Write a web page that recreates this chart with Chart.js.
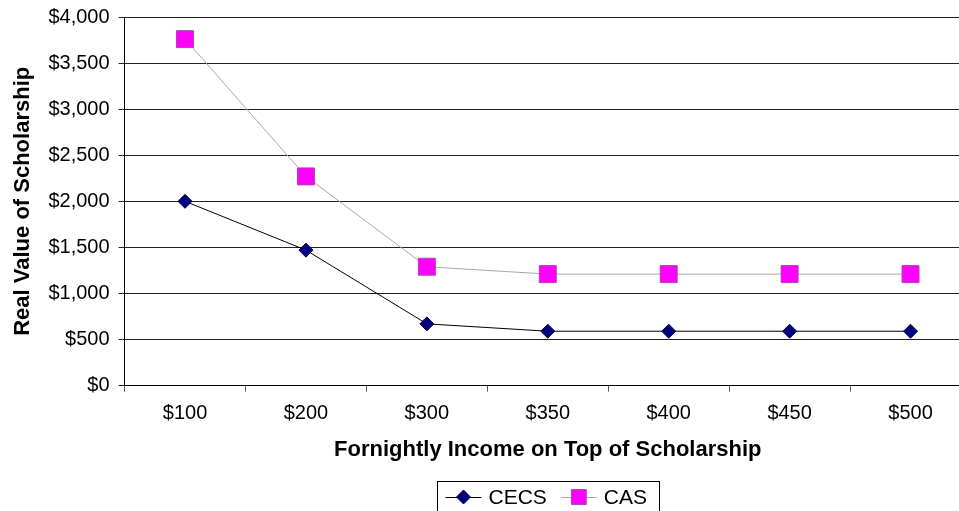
<!DOCTYPE html>
<html>
<head>
<meta charset="utf-8">
<title>Real Value of Scholarship</title>
<script src="https://cdn.jsdelivr.net/npm/chart.js@4.4.0/dist/chart.umd.min.js"></script>
<style>
  html, body { margin: 0; padding: 0; background: #fff; overflow: hidden; }
  #wrap { width: 984px; height: 511px; }
  canvas { display: block; }
</style>
</head>
<body>
<div id="wrap"><canvas id="scholarshipChart" width="984" height="511" style="width:984px;height:511px"></canvas></div>
<script>
// fortnightly income categories and the real value of each scholarship
const incomeLabels = ['$100', '$200', '$300', '$350', '$400', '$450', '$500'];
const cecsValues = [2000, 1470, 670, 590, 590, 590, 590];
const casValues = [3760, 2270, 1290, 1210, 1210, 1210, 1210];
const yMin = 0, yMax = 4000, yStep = 500;

const FONT = "'Liberation Sans', Arial, sans-serif";

// boxed legend under the x axis title, centred on the plot
const boxLegend = {
  id: 'boxLegend',
  afterDraw(chart) {
    const ctx = chart.ctx;
    const area = chart.chartArea;
    const cx = (area.left + area.right) / 2;
    const w = 222, top = 481, y = 497;
    const left = Math.round(cx - w / 2) + 0.5;
    ctx.save();
    ctx.strokeStyle = '#000';
    ctx.lineWidth = 1;
    ctx.strokeRect(left, top + 0.5, w, 40);
    ctx.font = '21px ' + FONT;
    ctx.textBaseline = 'middle';
    let x = left + 8;
    chart.data.datasets.forEach(ds => {
      ctx.strokeStyle = ds.borderColor;
      ctx.lineWidth = 1;
      ctx.beginPath();
      ctx.moveTo(x, y + 0.5);
      ctx.lineTo(x + 36, y + 0.5);
      ctx.stroke();
      ctx.fillStyle = ds.pointBackgroundColor;
      ctx.strokeStyle = ds.pointBorderColor;
      Chart.helpers.drawPoint(ctx, {
        pointStyle: ds.pointStyle,
        radius: ds.legendRadius,
        borderWidth: 1,
        rotation: 0
      }, x + 18, y);
      ctx.fillStyle = '#000';
      ctx.fillText(ds.label, x + 43, y + 1);
      x += 43 + ctx.measureText(ds.label).width + 14;
    });
    ctx.restore();
  }
};

new Chart(document.getElementById('scholarshipChart'), {
  type: 'line',
  data: {
    labels: incomeLabels,
    datasets: [
      {
        label: 'CECS',
        data: cecsValues,
        borderColor: '#000000',
        borderWidth: 1,
        pointStyle: 'rectRot',
        pointRadius: 7,
        legendRadius: 7,
        pointBackgroundColor: '#000080',
        pointBorderColor: '#000040',
        pointBorderWidth: 1,
        tension: 0
      },
      {
        label: 'CAS',
        data: casValues,
        borderColor: '#a8a8a8',
        borderWidth: 1,
        pointStyle: 'rect',
        pointRadius: 12,
        legendRadius: 10.5,
        pointBackgroundColor: '#ff00ff',
        pointBorderColor: '#b040b0',
        pointBorderWidth: 1,
        tension: 0
      }
    ]
  },
  options: {
    responsive: false,
    animation: false,
    layout: { padding: { top: 16, left: 10, right: 2, bottom: 48 } },
    plugins: {
      legend: { display: false },
      tooltip: { enabled: false }
    },
    scales: {
      x: {
        offset: true,
        grid: {
          offset: true,
          drawOnChartArea: false,
          drawTicks: true,
          tickLength: 6,
          color: '#555'
        },
        border: { color: '#000', width: 1 },
        ticks: { color: '#000', padding: 10, font: { family: FONT, size: 20 } },
        title: {
          display: true,
          text: 'Fornightly Income on Top of Scholarship',
          color: '#000',
          font: { family: FONT, size: 22, weight: 'bold' },
          padding: { top: 1, bottom: 0 }
        }
      },
      y: {
        min: yMin,
        max: yMax,
        grid: {
          color: '#222',
          lineWidth: 1,
          drawTicks: true,
          tickLength: 6
        },
        border: { color: '#000', width: 1 },
        ticks: {
          stepSize: yStep,
          color: '#000',
          padding: 9,
          font: { family: FONT, size: 20, lineHeight: 0.8 },
          callback: v => '$' + v.toLocaleString('en-US')
        },
        title: {
          display: true,
          text: 'Real Value of Scholarship',
          color: '#000',
          font: { family: FONT, size: 22, weight: 'bold' },
          padding: { top: 0, bottom: 3 }
        }
      }
    }
  },
  plugins: [boxLegend]
});
</script>
</body>
</html>
